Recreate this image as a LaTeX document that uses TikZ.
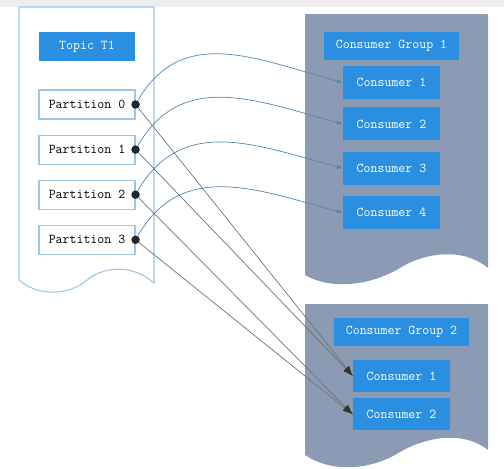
\documentclass[tikz,border=0pt]{standalone}
\usepackage{fontspec}
\usepackage{xcolor}
\usepackage{tikz}
\usetikzlibrary{arrows.meta,positioning}
\definecolor{kblue}{HTML}{2A8FE0}
\definecolor{kgroup}{HTML}{8A9BB3}
\definecolor{kline}{HTML}{9CC6EA}
\definecolor{kcurve}{HTML}{4F86B5}
\definecolor{kgray}{HTML}{707070}

\begin{document}
\begin{tikzpicture}[x=1pt,y=1pt,>=Latex,node distance=15pt,
  every node/.style={font=\ttfamily\fontsize{13.5}{15}\selectfont},
  bluebox/.style={fill=kblue,text=white,inner sep=0pt},
  partbox/.style={draw=kline,line width=1.1pt,fill=white,minimum width=96pt,minimum height=29pt,inner sep=0pt},
  consbox/.style={bluebox,minimum width=97pt,minimum height=33pt},
  pdot/.style={circle,fill=black!85,inner sep=0pt,minimum size=8.5pt},
  tocons/.style={kcurve,line width=0.7pt,-{Latex[length=6pt,width=4.5pt]}},
  togroup/.style={kgray,line width=0.7pt,-{Latex[length=10pt,width=7pt,color=black!80]}}]
\useasboundingbox (0,0) rectangle (504,-469);
\fill[black!7] (0,0) rectangle (504,-7);

% topic and consumer group sheets
\draw[kline,line width=1.1pt,fill=white] (19,-7) -- (154,-7) -- (154,-283)
  .. controls (130,-262) and (100,-268) .. (86,-281)
  .. controls (70,-294) and (40,-298) .. (19,-280) -- cycle;
\fill[kgroup] (305,-14) -- (488,-14) -- (488,-268)
  .. controls (460,-245) and (420,-255) .. (400,-268)
  .. controls (375,-283) and (335,-292) .. (305,-275) -- cycle;
\fill[kgroup] (305,-304) -- (488,-304) -- (488,-450)
  .. controls (460,-428) and (420,-440) .. (400,-452)
  .. controls (375,-468) and (335,-475) .. (305,-455) -- cycle;

% topic
\node[bluebox,minimum width=96pt,minimum height=29pt] (topic) at (87,-46.5) {Topic T1};
\node[partbox] (p0) at (87,-104.5) {Partition 0};
\node[partbox,below=of p0] (p1) {Partition 1};
\node[partbox,below=of p1] (p2) {Partition 2};
\node[partbox,below=of p2] (p3) {Partition 3};

% consumer group 1
\node[bluebox,minimum width=135pt,minimum height=28pt] (g1) at (391.5,-46) {Consumer Group 1};
\node[consbox] (g1c1) at (391.5,-82.5) {Consumer 1};
\node[consbox,below=8pt of g1c1] (g1c2) {Consumer 2};
\node[consbox,below=11pt of g1c2] (g1c3) {Consumer 3};
\node[consbox,below=11pt of g1c3] (g1c4) {Consumer 4};

% consumer group 2
\node[bluebox,minimum width=135pt,minimum height=28pt] (g2) at (401.5,-332) {Consumer Group 2};
\node[consbox,minimum height=32pt] (g2c1) at (401.5,-376) {Consumer 1};
\node[consbox,minimum height=32pt,below=6pt of g2c1] (g2c2) {Consumer 2};

% connections
\foreach \i in {0,...,3}
  \node[pdot] (d\i) at (p\i.east) {};
\draw[tocons] (d0) to[out=60,in=165,looseness=1.1] (g1c1.west);
\draw[tocons] (d1) to[out=60,in=165,looseness=1.1] (g1c2.west);
\draw[tocons] (d2) to[out=60,in=165,looseness=1.1] (g1c3.west);
\draw[tocons] (d3) to[out=60,in=165,looseness=1.1] (g1c4.west);
\draw[togroup] (d0) -- (g2c1.west);
\draw[togroup] (d1) -- (g2c1.west);
\draw[togroup] (d2) -- (g2c2.west);
\draw[togroup] (d3) -- (g2c2.west);
\end{tikzpicture}
\end{document}
